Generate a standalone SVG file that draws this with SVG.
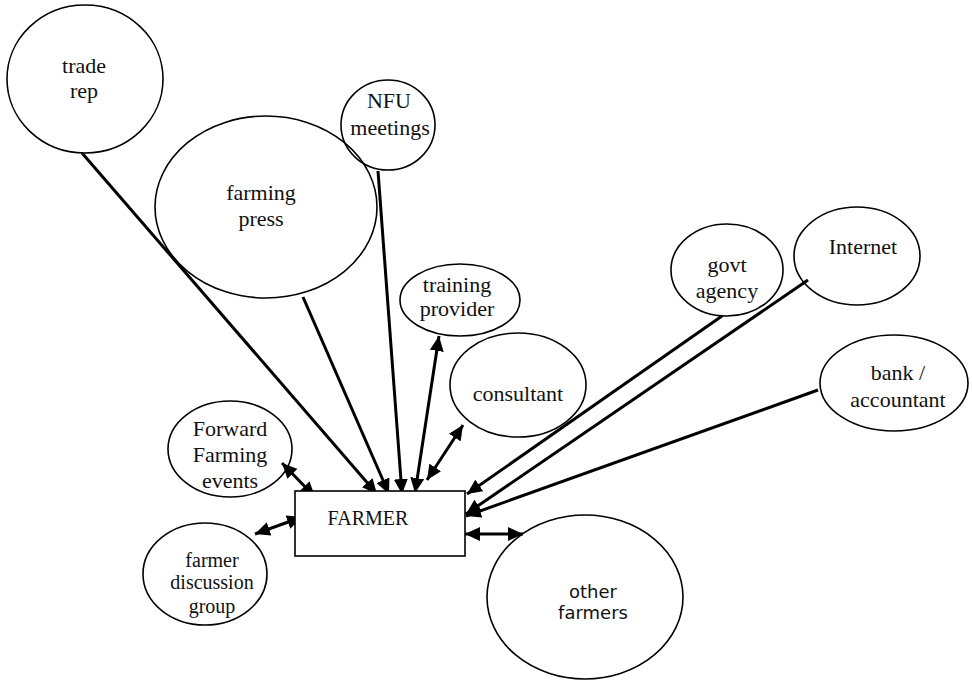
<svg xmlns="http://www.w3.org/2000/svg" width="972" height="684" viewBox="0 0 972 684">
<style>
.n ellipse{fill:none;stroke:#000;stroke-width:1.6}
.n rect{fill:#fff;stroke:#000;stroke-width:1.6}
text{font-family:"Liberation Serif","Times New Roman",serif;font-size:22px;fill:#111;text-anchor:middle}
.sans{font-family:"DejaVu Sans",Verdana,sans-serif;font-size:18px}
#connectors line{stroke:#000;stroke-width:3}
.one{marker-end:url(#ah)}
.two{marker-end:url(#ah);marker-start:url(#ah)}
</style>
<defs>
<marker id="ah" markerUnits="userSpaceOnUse" markerWidth="16" markerHeight="14" refX="15" refY="7" orient="auto-start-reverse">
<path d="M0,0 L15,7 L0,14 z" fill="#000"/>
</marker>
</defs>
<rect width="972" height="684" fill="#fff"/>
<g id="connectors">
<line class="one" x1="82" y1="153" x2="377" y2="494"/>
<line class="one" x1="303" y1="297" x2="389" y2="494"/>
<line class="one" x1="378" y1="171" x2="402" y2="494"/>
<line class="two" x1="415" y1="493" x2="439" y2="336"/>
<line class="two" x1="427" y1="480" x2="463" y2="425"/>
<line class="one" x1="722" y1="316" x2="467" y2="494"/>
<line class="one" x1="808" y1="280" x2="466" y2="514"/>
<line class="one" x1="818" y1="390" x2="466" y2="516"/>
<line class="two" x1="465" y1="534" x2="523" y2="534"/>
<line class="two" x1="282" y1="463" x2="315" y2="497"/>
<line class="two" x1="255" y1="534" x2="302" y2="517"/>
</g>
<g id="farmer" class="n"><rect x="295" y="491" width="170" height="65"/><text x="368" y="525" style="font-size:20px">FARMER</text></g>
<g id="trade-rep" class="n"><ellipse cx="85" cy="79" rx="78" ry="74"/><text x="84" y="73">trade</text><text x="84" y="98">rep</text></g>
<g id="farming-press" class="n"><ellipse cx="266" cy="207" rx="111" ry="91"/><text x="261" y="200">farming</text><text x="261" y="226">press</text></g>
<g id="nfu" class="n"><ellipse cx="388" cy="125" rx="47" ry="45"/><text x="389" y="108">NFU</text><text x="390" y="135">meetings</text></g>
<g id="training" class="n"><ellipse cx="460" cy="300" rx="60" ry="36"/><text x="457" y="292">training</text><text x="457" y="316">provider</text></g>
<g id="consultant" class="n"><ellipse cx="518" cy="385" rx="68" ry="52"/><text x="518" y="401">consultant</text></g>
<g id="govt" class="n"><ellipse cx="727" cy="270" rx="56" ry="46"/><text x="727" y="272">govt</text><text x="727" y="298">agency</text></g>
<g id="internet" class="n"><ellipse cx="857" cy="256" rx="63" ry="49"/><text x="863" y="254">Internet</text></g>
<g id="bank" class="n"><ellipse cx="894" cy="383" rx="74" ry="48"/><text x="898" y="380">bank /</text><text x="898" y="407">accountant</text></g>
<g id="forward" class="n"><ellipse cx="230" cy="449" rx="62" ry="48"/><text x="230" y="436">Forward</text><text x="230" y="462">Farming</text><text x="230" y="488">events</text></g>
<g id="discussion" class="n"><ellipse cx="205" cy="574" rx="62" ry="51"/><text x="212" y="567" style="font-size:20px">farmer</text><text x="212" y="589" style="font-size:20px">discussion</text><text x="212" y="613" style="font-size:20px">group</text></g>
<g id="other-farmers" class="n"><ellipse cx="585" cy="597" rx="98" ry="82"/><text class="sans" x="593" y="598">other</text><text class="sans" x="593" y="619">farmers</text></g>
</svg>
